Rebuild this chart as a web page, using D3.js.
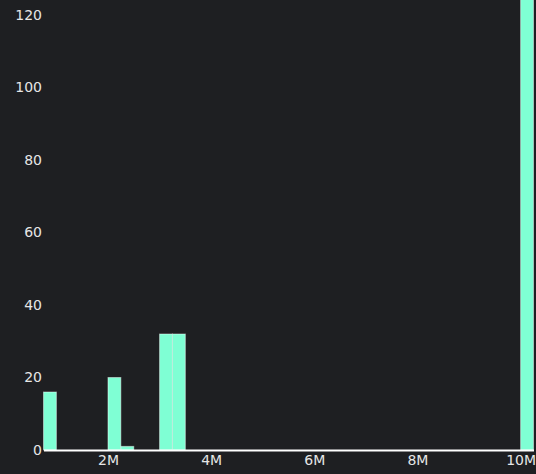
<!DOCTYPE html>
<html><head><meta charset="utf-8">
<script src="https://cdn.jsdelivr.net/npm/d3@7"></script>
<style>
html,body{margin:0;padding:0;background:#1e1f22;overflow:hidden}
svg{display:block}
</style></head>
<body>
<script>
const binStarts = [750000,1000000,1250000,1500000,1750000,2000000,2250000,2500000,2750000,3000000,3250000,3500000,3750000,4000000,4250000,4500000,4750000,5000000,5250000,5500000,5750000,6000000,6250000,6500000,6750000,7000000,7250000,7500000,7750000,8000000,8250000,8500000,8750000,9000000,9250000,9500000,9750000,10000000];
const counts    = [16,0,0,0,0,20,1,0,0,32,32,0,0,0,0,0,0,0,0,0,0,0,0,0,0,0,0,0,0,0,0,0,0,0,0,0,0,130];
const binWidth = 250000;
const xTicks = [2000000,4000000,6000000,8000000,10000000];
const yTicks = [0,20,40,60,80,100,120];

const W = 536, H = 474;
const svg = d3.select("body").append("svg").attr("width", W).attr("height", H);
svg.append("rect").attr("width", W).attr("height", H).attr("fill", "#1e1f22");

const x = d3.scaleLinear().domain([750000, 10250000]).range([43.5, 533.5]);
const y = d3.scaleLinear().domain([0, 120]).range([450, 15]);

const data = binStarts.map((s, i) => ({x0: s, x1: s + binWidth, v: counts[i]}));

svg.append("g").selectAll("rect").data(data).join("rect")
  .attr("x", d => x(d.x0))
  .attr("width", d => x(d.x1) - x(d.x0))
  .attr("y", d => y(d.v))
  .attr("height", d => y(0) - y(d.v))
  .attr("fill", "#7fffd4")
  .attr("stroke", "rgba(255,255,255,0.45)")
  .attr("stroke-width", 1);

const font = "DejaVu Sans, Verdana, sans-serif";

const xa = svg.append("g").attr("transform", "translate(0,450)")
  .call(d3.axisBottom(x).tickValues(xTicks).tickFormat(d3.format("~s")).tickSize(0).tickPadding(5));
xa.select(".domain").attr("stroke", "#ffffff").attr("stroke-width", 2);
xa.selectAll("text").attr("fill", "#e6e6e6").style("font-family", font).style("font-size", "14px");

const ya = svg.append("g").attr("transform", "translate(43,0)")
  .call(d3.axisLeft(y).tickValues(yTicks).tickSize(0).tickPadding(1));
ya.select(".domain").remove();
ya.selectAll("text").attr("fill", "#e6e6e6").style("font-family", font).style("font-size", "14px");
</script>
</body></html>
